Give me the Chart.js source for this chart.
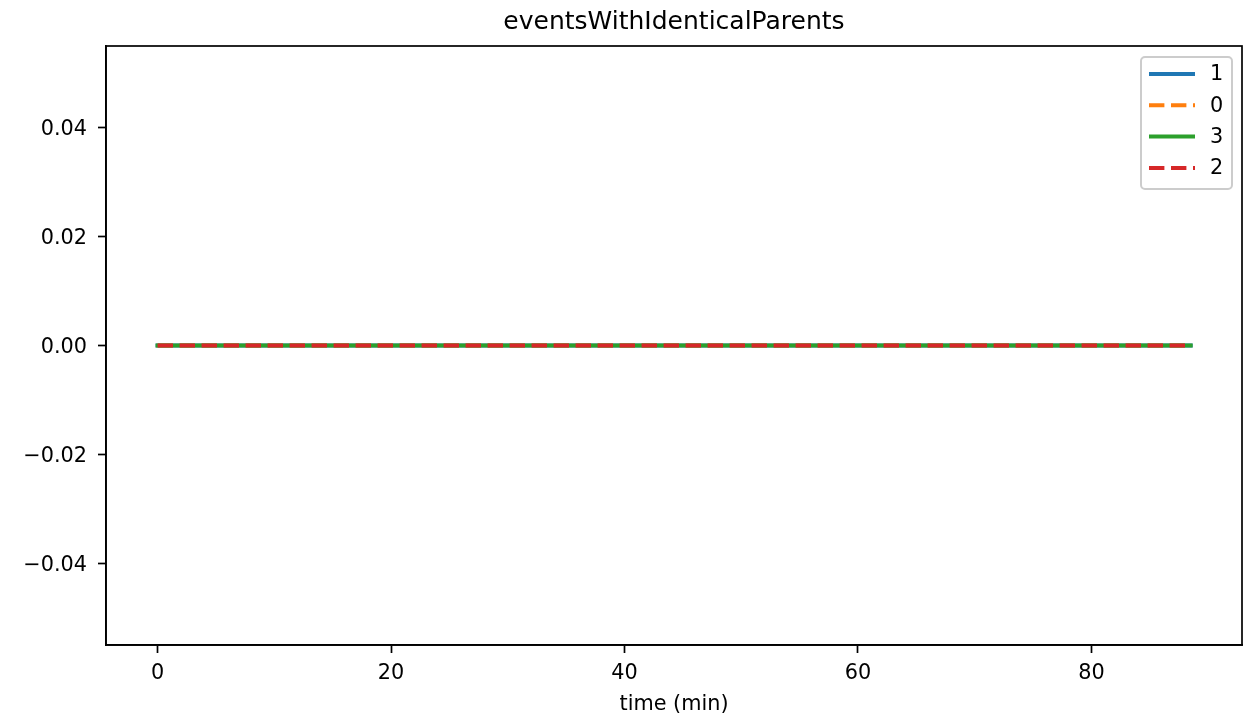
<!DOCTYPE html>
<html>
<head>
<meta charset="utf-8">
<script src="https://cdn.jsdelivr.net/npm/chart.js@4"></script>
<style>
  html, body { margin: 0; padding: 0; background: #fff; }
  #wrap { width: 1243px; height: 721px; position: relative; }
</style>
</head>
<body>
<div id="wrap"><canvas id="chart"></canvas></div>
<script>
const chartTitle = 'eventsWithIdenticalParents';
const xTitle = 'time (min)';
const seriesNames = ['1', '0', '3', '2'];
const seriesColors = ['#1f77b4', '#ff7f0e', '#2ca02c', '#d62728'];
const seriesDashed = [false, true, false, true];
const times = [0, 8, 16, 24, 32, 40, 48, 56, 64, 72, 80, 88.5];
const series1 = [0, 0, 0, 0, 0, 0, 0, 0, 0, 0, 0, 0];
const series0 = [0, 0, 0, 0, 0, 0, 0, 0, 0, 0, 0, 0];
const series3 = [0, 0, 0, 0, 0, 0, 0, 0, 0, 0, 0, 0];
const series2 = [0, 0, 0, 0, 0, 0, 0, 0, 0, 0, 0, 0];
const xTicks = [0, 20, 40, 60, 80];
const yTicks = [-0.04, -0.02, 0, 0.02, 0.04];

const FONT = 'DejaVu Sans';
const allValues = [series1, series0, series3, series2];
const DASH = [15.4, 6.6];

const datasets = seriesNames.map((name, i) => ({
    label: name,
    data: times.map((t, j) => ({ x: t, y: allValues[i][j] })),
    borderColor: seriesColors[i],
    backgroundColor: seriesColors[i],
    borderWidth: 4,
    borderDash: seriesDashed[i] ? DASH : [],
    borderCapStyle: seriesDashed[i] ? 'butt' : 'square',
    pointRadius: 0,
    tension: 0,
    fill: false,
    order: seriesNames.length - i
}));

// title, top/right spines and matplotlib-style legend
const decor = {
    id: 'decor',
    afterDraw(chart) {
        const { ctx, chartArea: a } = chart;
        ctx.save();
        ctx.strokeStyle = '#000';
        ctx.lineWidth = 1.7;
        ctx.strokeRect(a.left, a.top, a.right - a.left, a.bottom - a.top);

        ctx.fillStyle = '#000';
        ctx.font = '25px "' + FONT + '"';
        ctx.textAlign = 'center';
        ctx.textBaseline = 'alphabetic';
        ctx.fillText(chartTitle, (a.left + a.right) / 2, 29);

        // legend box
        const bx = 1141, by = 57, bw = 91, bh = 132, r = 4;
        ctx.beginPath();
        ctx.roundRect(bx, by, bw, bh, r);
        ctx.fillStyle = 'rgba(255,255,255,0.8)';
        ctx.fill();
        ctx.strokeStyle = '#cccccc';
        ctx.lineWidth = 2;
        ctx.stroke();

        ctx.font = '20.8px "' + FONT + '"';
        ctx.textAlign = 'left';
        ctx.textBaseline = 'middle';
        seriesNames.forEach((name, i) => {
            const y = 74 + i * 31.3;
            ctx.beginPath();
            ctx.strokeStyle = seriesColors[i];
            ctx.lineWidth = 4;
            ctx.lineCap = 'butt';
            ctx.setLineDash(seriesDashed[i] ? DASH : []);
            ctx.moveTo(1149, y);
            ctx.lineTo(1195, y);
            ctx.stroke();
            ctx.setLineDash([]);
            ctx.fillStyle = '#000';
            ctx.fillText(name, 1210, y + 1);
        });
        ctx.restore();
    }
};

const fmtY = v => (v < 0 ? '\u2212' : '') + Math.abs(v).toFixed(2);

new Chart(document.getElementById('chart').getContext('2d'), {
    type: 'line',
    data: { datasets },
    options: {
        responsive: true,
        maintainAspectRatio: false,
        animation: false,
        layout: { padding: { top: 46, right: 1, left: 0, bottom: 0 } },
        plugins: {
            legend: { display: false },
            title: { display: false },
            tooltip: { enabled: false }
        },
        scales: {
            x: {
                type: 'linear',
                min: -4.42,
                max: 92.9,
                afterFit: s => { s.height = 76; },
                afterBuildTicks: s => { s.ticks = xTicks.map(v => ({ value: v })); },
                grid: { drawOnChartArea: false, drawTicks: true, tickLength: 8, tickWidth: 1.7, tickColor: '#000' },
                border: { display: true, color: '#000', width: 1.7 },
                ticks: { color: '#000', font: { family: FONT, size: 20.8 }, padding: 8, maxRotation: 0, callback: v => String(v) },
                title: { display: true, text: xTitle, color: '#000', font: { family: FONT, size: 20.8 }, padding: { top: 0, bottom: 4 } }
            },
            y: {
                type: 'linear',
                min: -0.055,
                max: 0.055,
                afterFit: s => { s.width = 106; },
                afterBuildTicks: s => { s.ticks = yTicks.map(v => ({ value: v })); },
                grid: { drawOnChartArea: false, drawTicks: true, tickLength: 8, tickWidth: 1.7, tickColor: '#000' },
                border: { display: true, color: '#000', width: 1.7 },
                ticks: { color: '#000', font: { family: FONT, size: 20.8 }, padding: 11, labelOffset: 2, callback: v => fmtY(v) }
            }
        }
    },
    plugins: [decor]
});
</script>
</body>
</html>
